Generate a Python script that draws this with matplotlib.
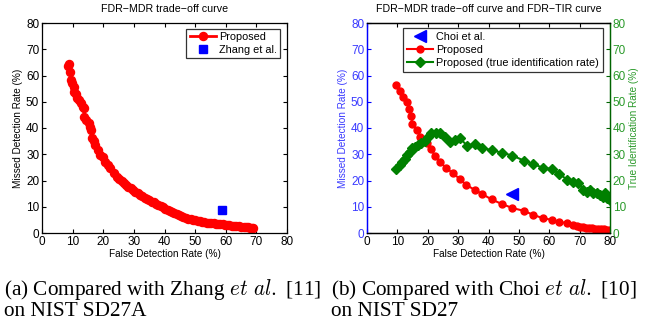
import matplotlib
matplotlib.use("Agg")
import matplotlib.pyplot as plt

plt.rcParams['font.family'] = ['Liberation Sans', 'DejaVu Sans']
plt.rcParams['mathtext.fontset'] = 'cm'

# ---- data (a) ----
a_fdr = [8.5, 8.7, 9.2, 9.6, 9.8, 10.3, 10.6, 11.0, 11.4, 12.0, 12.8, 13.3, 13.6, 13.8,
         14.4, 15.2, 15.7, 16.0, 16.3, 16.9, 17.4, 18.2, 19.0, 19.8, 20.7, 21.5, 22.3,
         23.4, 24.5, 25.2, 26.0, 26.8, 27.5, 28.2, 29.0, 29.8, 30.5, 31.2, 32.0, 32.8,
         33.5, 34.2, 35.0, 35.8, 36.5, 37.2, 38.0, 38.8, 39.5, 40.2, 41.0, 41.8, 42.5,
         43.2, 44.0, 44.8, 45.5, 46.2, 47.0, 47.8, 48.5, 49.2, 50.0, 50.8, 51.5, 52.2,
         53.0, 53.8, 54.5, 55.2, 56.0, 56.8, 57.5, 58.2, 59.0, 59.8, 60.5, 61.2, 62.0,
         62.8, 63.5, 64.2, 65.0, 65.8, 66.5, 67.2, 68.0, 68.5, 69.0]
a_mdr = [63.5, 64.2, 61.5, 58.3, 57.0, 55.7, 53.8, 53.0, 51.3, 50.5, 49.4, 48.0, 47.5, 44.3,
         43.0, 41.8, 40.5, 39.2, 36.1, 35.0, 33.5, 31.5, 29.7, 28.8, 27.2, 25.8, 24.6,
         23.0, 21.5, 20.6, 19.8, 19.1, 18.4, 17.7, 17.0, 16.4, 15.8, 15.2, 14.6, 14.0,
         13.4, 12.9, 12.4, 12.0, 11.7, 11.2, 10.8, 10.3, 9.8, 9.3, 8.9, 8.4, 8.0,
         7.6, 7.2, 6.8, 6.5, 6.1, 5.7, 5.4, 5.2, 5.0, 4.8, 4.6, 4.4, 4.2,
         4.1, 4.0, 3.9, 3.8, 3.7, 3.6, 3.5, 3.4, 3.3, 3.1, 3.0, 2.9, 2.8,
         2.7, 2.6, 2.5, 2.4, 2.3, 2.2, 2.1, 2.0, 1.9, 1.8]
zhang_fdr = [58.7]
zhang_mdr = [8.8]

# ---- data (b) ----
b_fdr = [9.7, 10.8, 11.9, 13.2, 13.8, 14.6, 14.9, 16.5, 17.6, 19.6, 21.2, 22.3, 24.0,
         25.9, 28.4, 30.5, 32.7, 35.5, 38.0, 41.0, 44.3, 47.9, 51.8, 54.7, 57.8, 60.8,
         63.3, 65.9, 67.9, 69.0, 70, 71, 72, 73, 74, 75, 76, 77, 78, 79, 80]
b_mdr = [56.4, 54.2, 51.7, 49.8, 47.3, 44.6, 41.5, 39.3, 36.6, 34.4, 32.0, 29.4, 27.2,
         24.9, 22.7, 20.6, 18.3, 16.4, 14.8, 12.8, 11.1, 9.5, 8.4, 6.9, 5.7, 5.0,
         4.2, 3.8, 3.0, 2.5, 2.3, 2.2, 2.0, 1.9, 1.8, 1.7, 1.6, 1.5, 1.4, 1.3, 1.2]
tir_fdr = [9.7, 10.8, 11.6, 12.4, 13.2, 14.1, 14.8, 15.7, 16.8, 17.9, 19.0, 20.1, 21.2,
           22.6, 24.0, 25.6, 27.3, 28.9, 30.5, 33.0, 35.5, 38.0, 41.0, 44.3, 47.9, 51.8,
           54.7, 57.8, 60.8, 63.3, 65.9, 67.9, 69.6, 71.2, 72.3, 73.4, 74.5, 75.6, 76.7,
           77.6, 78.4, 79.1, 80.0]
tir = [24.4, 25.9, 27.0, 28.2, 29.7, 31.0, 32.3, 32.9, 33.5, 34.2, 35.2, 36.7, 38.0,
       38.2, 38.2, 36.7, 34.8, 35.4, 36.1, 33.3, 33.9, 32.3, 31.6, 30.6, 29.5, 27.5,
       26.3, 24.9, 24.3, 22.5, 20.3, 19.6, 19.0, 16.5, 15.8, 16.2, 15.2, 15.4, 14.6,
       13.7, 15.4, 13.3, 12.7]
choi_fdr = [47.9]
choi_mdr = [14.9]

ticks = [0, 10, 20, 30, 40, 50, 60, 70, 80]

fig = plt.figure(figsize=(6.6, 3.23), dpi=100)
W, H = 660, 323

def rect(x0, x1, y0, y1):
    return [x0 / W, 1 - y1 / H, (x1 - x0) / W, (y1 - y0) / H]

tick_fs = 8.5
lab_fs = 7.2
title_fs = 7.7
leg_fs = 7.8

# ---- (a) ----
ax1 = fig.add_axes(rect(42, 287, 23, 233))
ax1.plot(a_fdr, a_mdr, '-o', color='red', lw=2, ms=5.8, mec='red', mfc='red',
         label='Proposed')
ax1.plot(zhang_fdr, zhang_mdr, 's', color='blue', ms=6, ls='none', label='Zhang et al.')
ax1.set_xlim(0, 80)
ax1.set_ylim(0, 80)
ax1.set_xticks(ticks)
ax1.set_yticks(ticks)
ax1.tick_params(direction='in', length=3, width=0.8, labelsize=tick_fs, pad=2,
                top=True, right=True)
ax1.set_xlabel('False Detection Rate (%)', fontsize=lab_fs, labelpad=1)
ax1.set_ylabel('Missed Detection Rate (%)', fontsize=lab_fs, labelpad=2)
ax1.set_title('FDR\u2212MDR trade\u2212off curve', fontsize=title_fs, pad=8)
for s in ax1.spines.values():
    s.set_linewidth(0.9)
leg1 = ax1.legend(loc='upper right', bbox_to_anchor=(280 / W, 1 - 29 / H),
                  bbox_transform=fig.transFigure, fontsize=leg_fs, frameon=True,
                  fancybox=False, edgecolor='black', handlelength=2.4,
                  handletextpad=0.3, borderpad=0.3, labelspacing=0.25, borderaxespad=0)
leg1.get_frame().set_linewidth(0.9)

# ---- (b) ----
blue_lab = '#3a3aff'
green_lab = '#2a9a2a'
ax2 = fig.add_axes(rect(367, 610, 23, 233))
l_choi, = ax2.plot(choi_fdr, choi_mdr, '<', color='blue', ms=8, ls='none', label='Choi et al.')
l_red, = ax2.plot(b_fdr, b_mdr, '-o', color='red', lw=1.5, ms=5, label='Proposed')
ax3 = ax2.twinx()
l_green, = ax3.plot(tir_fdr, tir, '-D', color='#008000', lw=1.5, ms=4.6,
                    label='Proposed (true identification rate)')
ax2.set_xlim(0, 80)
ax2.set_ylim(0, 80)
ax3.set_ylim(0, 80)
ax2.set_xticks(ticks)
ax2.set_yticks(ticks)
ax3.set_yticks(ticks)
ax2.tick_params(axis='x', direction='in', length=3, width=0.8, labelsize=tick_fs, pad=2,
                top=True)
ax2.tick_params(axis='y', direction='in', length=3, width=0.8, labelsize=tick_fs, pad=2,
                colors='blue', labelcolor=blue_lab)
ax3.tick_params(axis='y', direction='in', length=3, width=0.8, labelsize=tick_fs, pad=2,
                colors='#006400', labelcolor=green_lab)
ax2.set_xlabel('False Detection Rate (%)', fontsize=lab_fs, labelpad=1)
ax2.set_ylabel('Missed Detection Rate (%)', fontsize=lab_fs, labelpad=2, color=blue_lab)
ax3.set_ylabel('True Identification Rate (%)', fontsize=lab_fs, labelpad=2, color=green_lab)
ax2.set_title('FDR\u2212MDR trade\u2212off curve and FDR\u2212TIR curve', fontsize=title_fs, pad=8)
for s in list(ax2.spines.values()) + list(ax3.spines.values()):
    s.set_linewidth(0.9)
ax2.spines['left'].set_color('blue')
ax3.spines['left'].set_color('blue')
ax3.spines['right'].set_color('#006400')
ax2.spines['right'].set_color('#006400')
leg2 = ax3.legend(handles=[l_choi, l_red, l_green], loc='upper right',
                  bbox_to_anchor=(603 / W, 1 - 28 / H), bbox_transform=fig.transFigure,
                  fontsize=leg_fs, frameon=True, fancybox=False, edgecolor='black',
                  handlelength=2.4, handletextpad=0.3, borderpad=0.35, labelspacing=0.3,
                  borderaxespad=0)
leg2.get_frame().set_linewidth(0.9)

# ---- captions ----
cap_fs = 15.3
cap_family = ['Liberation Serif', 'DejaVu Serif']
fig.text(4 / W, 1 - 290 / H, r'(a) Compared with Zhang $et\ al.$ [11]', fontsize=cap_fs,
         family=cap_family, va='center', ha='left')
fig.text(4 / W, 1 - 312 / H, 'on NIST SD27A', fontsize=cap_fs, family=cap_family,
         va='center', ha='left')
fig.text(331 / W, 1 - 290 / H, r'(b) Compared with Choi $et\ al.$ [10]', fontsize=cap_fs,
         family=cap_family, va='center', ha='left')
fig.text(331 / W, 1 - 312 / H, 'on NIST SD27', fontsize=cap_fs, family=cap_family,
         va='center', ha='left')

fig.savefig('out.png', dpi=100)
